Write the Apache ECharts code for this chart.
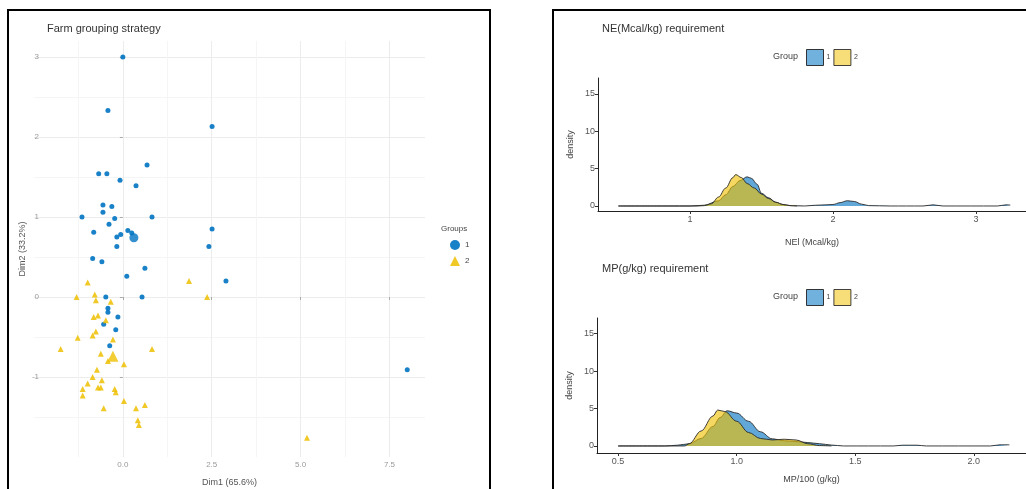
<!DOCTYPE html>
<html><head><meta charset="utf-8">
<script src="https://cdn.jsdelivr.net/npm/echarts@6/dist/echarts.min.js"></script>
<style>html,body{margin:0;padding:0;background:#fff}#c{width:1026px;height:489px}</style>
</head><body><div id="c"></div>
<script>
// ---- Data ----
const groupNames = ['1', '2'];
const group1Points = [
  [0.0,3.0],[-0.42,2.33],[2.51,2.13],[0.68,1.65],[-0.68,1.54],[-0.45,1.54],[-0.08,1.46],[0.37,1.39],
  [-0.56,1.15],[-0.31,1.13],[-0.56,1.06],[-1.15,1.0],[0.82,1.0],[-0.23,0.98],[-0.39,0.91],[-0.82,0.81],
  [0.14,0.83],[0.25,0.8],[-0.06,0.78],[-0.17,0.75],[-0.17,0.63],[2.51,0.85],[2.42,0.63],[-0.85,0.48],
  [-0.59,0.44],[0.62,0.36],[0.11,0.26],[2.9,0.2],[-0.48,0.0],[0.54,0.0],[-0.42,-0.14],[-0.42,-0.19],
  [-0.14,-0.25],[-0.54,-0.34],[-0.2,-0.41],[-0.37,-0.61],[8.0,-0.91]
];
const group2Points = [
  [-0.99,0.18],[1.86,0.2],[-1.3,0.0],[-0.79,0.03],[-0.76,-0.04],[-0.34,-0.06],[2.37,0.0],[-0.7,-0.23],
  [-0.82,-0.25],[-0.48,-0.29],[-0.76,-0.43],[-0.85,-0.48],[-1.27,-0.51],[-0.28,-0.53],[-1.75,-0.65],
  [0.82,-0.65],[-0.62,-0.71],[-0.42,-0.8],[0.03,-0.84],[-0.73,-0.91],[-0.85,-1.0],[-0.99,-1.08],
  [-0.59,-1.04],[-0.7,-1.13],[-0.62,-1.13],[-1.13,-1.15],[-1.13,-1.23],[-0.23,-1.15],[-0.2,-1.19],
  [0.03,-1.3],[-0.54,-1.39],[0.37,-1.39],[0.62,-1.35],[0.42,-1.54],[0.45,-1.6],[5.18,-1.76]
];
const group1Centroid = [[0.31,0.74]];
const group2Centroid = [[-0.28,-0.74]];
const scatterXTicks = [0, 2.5, 5, 7.5];
const scatterYTicks = [-1, 0, 1, 2, 3];

const neGroup1 = [[0.5,0],[1.0,0],[1.1,0.1],[1.2,0.7],[1.25,1.5],[1.3,2.6],[1.35,3.4],[1.4,3.9],[1.43,3.7],
  [1.47,2.9],[1.5,1.7],[1.55,1.1],[1.6,0.5],[1.65,0.2],[1.7,0.05],[1.8,0],[1.88,0.1],[1.95,0.15],[2.0,0.2],
  [2.05,0.45],[2.1,0.7],[2.15,0.6],[2.2,0.25],[2.25,0.05],[2.4,0],[2.63,0],[2.7,0.15],[2.77,0],[3.15,0],
  [3.21,0.15],[3.24,0.12]];
const neGroup2 = [[0.5,0],[1.05,0],[1.1,0.05],[1.15,0.3],[1.2,1.2],[1.25,2.4],[1.3,3.8],[1.32,4.2],[1.36,3.8],
  [1.4,3.0],[1.45,2.4],[1.5,1.6],[1.55,1.0],[1.6,0.5],[1.65,0.2],[1.7,0.05],[1.75,0]];
const neXTicks = [1, 2, 3];

const mpGroup1 = [[0.5,0],[0.7,0],[0.75,0.1],[0.8,0.3],[0.85,1.0],[0.9,2.6],[0.93,3.8],[0.96,4.7],[1.0,4.4],
  [1.05,3.3],[1.1,1.9],[1.15,0.95],[1.2,0.7],[1.25,0.6],[1.3,0.45],[1.35,0.3],[1.4,0.12],[1.45,0],[1.66,0],
  [1.7,0.1],[1.76,0.1],[1.8,0],[2.07,0],[2.11,0.15],[2.15,0.15]];
const mpGroup2 = [[0.5,0],[0.78,0],[0.8,0.3],[0.85,2.0],[0.9,4.0],[0.92,4.8],[0.95,4.6],[1.0,3.3],[1.05,1.8],
  [1.1,1.0],[1.15,0.8],[1.2,0.9],[1.25,0.8],[1.3,0.3],[1.35,0.05],[1.4,0]];
const mpXTicks = [0.5, 1.0, 1.5, 2.0];
const densityYTicks = [0, 5, 10, 15];

// ---- Styles ----
const BLUE = '#0073C2', YELLOW = '#EFC000';
const BLUE_A = 'rgba(0,115,194,0.62)', YELLOW_A = 'rgba(239,192,0,0.62)';
const FONT = 'Liberation Sans, Arial, sans-serif';

const chart = echarts.init(document.getElementById('c'), null, {renderer: 'canvas'});

function densityX(grid, min, max, ticks, name, gap, fmt) {
  return {
    type: 'value', gridIndex: grid, min: min, max: max,
    axisLine: {show: true, onZero: false, lineStyle: {color: '#222', width: 1}},
    axisTick: {show: true, length: 3, customValues: ticks, lineStyle: {color: '#333'}},
    axisLabel: {customValues: ticks, fontSize: 9, color: '#555', margin: 4, fontFamily: FONT, formatter: fmt},
    splitLine: {show: false},
    name: name, nameLocation: 'middle', nameGap: gap,
    nameTextStyle: {fontSize: 9, color: '#444', fontFamily: FONT}
  };
}
function densityY(grid, min, max) {
  return {
    type: 'value', gridIndex: grid, min: min, max: max,
    axisLine: {show: true, onZero: false, lineStyle: {color: '#222', width: 1}},
    axisTick: {show: true, length: 3, customValues: densityYTicks, lineStyle: {color: '#333'}},
    axisLabel: {customValues: densityYTicks, fontSize: 9, color: '#555', margin: 3, fontFamily: FONT},
    splitLine: {show: false},
    name: 'density', nameLocation: 'middle', nameGap: 23, nameRotate: 90,
    nameTextStyle: {fontSize: 9, color: '#444', fontFamily: FONT}
  };
}
function densitySeries(name, data, xi, area, z) {
  return {
    type: 'line', name: name, xAxisIndex: xi, yAxisIndex: xi, data: data,
    smooth: 0.35, smoothMonotone: 'x', symbol: 'none', z: z,
    lineStyle: {color: '#2a2a2a', width: 0.9},
    itemStyle: {color: area},
    areaStyle: {color: area, opacity: 1}
  };
}
function boxLegend(top) {
  return {
    left: 801, top: top, orient: 'horizontal', itemWidth: 17, itemHeight: 16, itemGap: 3,
    selectedMode: false,
    textStyle: {fontSize: 7, color: '#444', fontFamily: FONT, padding: [0, 0, 0, -2]},
    data: [
      {name: '1', icon: 'rect', itemStyle: {color: BLUE_A, borderColor: '#222', borderWidth: 1}},
      {name: '2', icon: 'rect', itemStyle: {color: YELLOW_A, borderColor: '#222', borderWidth: 1}}
    ]
  };
}

const option = {
  animation: false,
  backgroundColor: '#fff',
  textStyle: {fontFamily: FONT},
  title: [
    {text: 'Farm grouping strategy', left: 42, top: 18, textStyle: {fontSize: 11, fontWeight: 'normal', color: '#333', fontFamily: FONT}},
    {text: 'NE(Mcal/kg) requirement', left: 597, top: 18, textStyle: {fontSize: 11, fontWeight: 'normal', color: '#333', fontFamily: FONT}},
    {text: 'MP(g/kg) requirement', left: 597, top: 258, textStyle: {fontSize: 11, fontWeight: 'normal', color: '#333', fontFamily: FONT}}
  ],
  legend: [
    {
      left: 445, top: 235, orient: 'vertical', itemWidth: 10, itemHeight: 10, itemGap: 6,
      selectedMode: false,
      textStyle: {fontSize: 8, color: '#444', fontFamily: FONT},
      data: [
        {name: '1', icon: 'circle', itemStyle: {color: BLUE}},
        {name: '2', icon: 'triangle', itemStyle: {color: YELLOW}}
      ]
    },
    boxLegend(44),
    boxLegend(284)
  ],
  grid: [
    {left: 34, top: 41, width: 391, height: 416, containLabel: false, outerBoundsMode: 'none'},
    {left: 598, top: 78, width: 428, height: 133, containLabel: false, outerBoundsMode: 'none'},
    {left: 597, top: 318, width: 429, height: 135, containLabel: false, outerBoundsMode: 'none'}
  ],
  xAxis: [
    {
      type: 'value', gridIndex: 0, min: -2.5, max: 8.5, interval: 2.5,
      axisLine: {show: false},
      axisTick: {show: true, length: 3, customValues: scatterXTicks, lineStyle: {color: '#aaa'}},
      axisLabel: {customValues: scatterXTicks, fontSize: 8, color: '#999', margin: 4, fontFamily: FONT,
        formatter: v => v.toFixed(1)},
      splitLine: {show: true, lineStyle: {color: '#ececec', width: 1}},
      minorTick: {show: false, splitNumber: 2},
      minorSplitLine: {show: true, lineStyle: {color: '#f5f5f5', width: 1}},
      name: 'Dim1 (65.6%)', nameLocation: 'middle', nameGap: 21,
      nameTextStyle: {fontSize: 9, color: '#555', fontFamily: FONT}
    },
    densityX(1, 0.357, 3.35, neXTicks, 'NEl (Mcal/kg)', 27, v => String(v)),
    densityX(2, 0.411, 2.22, mpXTicks, 'MP/100 (g/kg)', 22, v => v.toFixed(1))
  ],
  yAxis: [
    {
      type: 'value', gridIndex: 0, min: -2, max: 3.2, interval: 1, offset: -8,
      axisLine: {show: false},
      axisTick: {show: true, length: 3, customValues: scatterYTicks, lineStyle: {color: '#aaa'}},
      axisLabel: {customValues: scatterYTicks, fontSize: 8, color: '#999', margin: 3, fontFamily: FONT},
      splitLine: {show: true, lineStyle: {color: '#ececec', width: 1}},
      minorTick: {show: false, splitNumber: 2},
      minorSplitLine: {show: true, lineStyle: {color: '#f5f5f5', width: 1}},
      name: 'Dim2 (33.2%)', nameLocation: 'middle', nameGap: 15, nameRotate: 90,
      nameTextStyle: {fontSize: 9, color: '#555', fontFamily: FONT}
    },
    densityY(1, -0.67, 17.13),
    densityY(2, -0.94, 17.1)
  ],
  series: [
    {type: 'scatter', name: groupNames[0], xAxisIndex: 0, yAxisIndex: 0, data: group1Points,
      symbol: 'circle', symbolSize: 5, itemStyle: {color: BLUE, opacity: 0.9}, z: 3},
    {type: 'scatter', name: groupNames[1], xAxisIndex: 0, yAxisIndex: 0, data: group2Points,
      symbol: 'triangle', symbolSize: 6, itemStyle: {color: YELLOW, opacity: 0.85}, z: 3},
    {type: 'scatter', name: groupNames[0], xAxisIndex: 0, yAxisIndex: 0, data: group1Centroid,
      symbol: 'circle', symbolSize: 9, itemStyle: {color: BLUE}, z: 4},
    {type: 'scatter', name: groupNames[1], xAxisIndex: 0, yAxisIndex: 0, data: group2Centroid,
      symbol: 'triangle', symbolSize: 11, itemStyle: {color: YELLOW}, z: 4},
    densitySeries(groupNames[0], neGroup1, 1, BLUE_A, 2),
    densitySeries(groupNames[1], neGroup2, 1, YELLOW_A, 3),
    densitySeries(groupNames[0], mpGroup1, 2, BLUE_A, 2),
    densitySeries(groupNames[1], mpGroup2, 2, YELLOW_A, 3)
  ],
  graphic: [
    {type: 'rect', shape: {x: 8, y: 10, width: 482, height: 490}, style: {fill: 'none', stroke: '#000', lineWidth: 2}, silent: true},
    {type: 'rect', shape: {x: 553, y: 10, width: 480, height: 490}, style: {fill: 'none', stroke: '#000', lineWidth: 2}, silent: true},
    {type: 'text', left: 441, top: 225, style: {text: 'Groups', fontSize: 8, fill: '#444', fontFamily: FONT}},
    {type: 'text', left: 773, top: 52, style: {text: 'Group', fontSize: 9, fill: '#444', fontFamily: FONT}},
    {type: 'text', left: 773, top: 292, style: {text: 'Group', fontSize: 9, fill: '#444', fontFamily: FONT}}
  ]
};
chart.setOption(option);
</script>
</body></html>
